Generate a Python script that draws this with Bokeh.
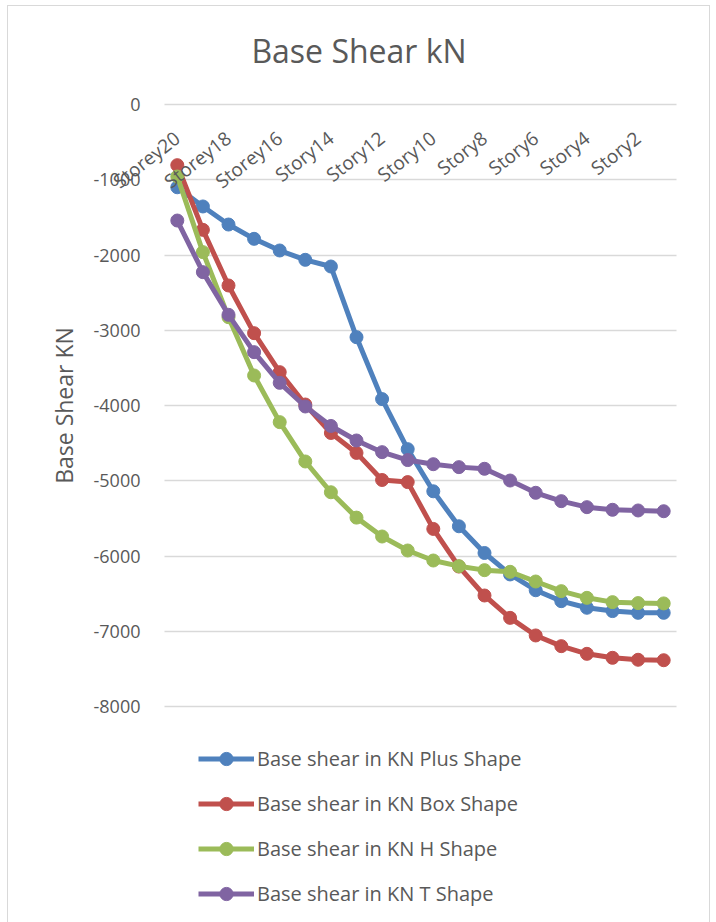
import math

from bokeh.core.properties import value
from bokeh.embed import file_html
from bokeh.models import (ColumnDataSource, FixedTicker, Label, LabelSet, Legend,
                          LegendItem, Range1d)
from bokeh.plotting import figure
from bokeh.resources import INLINE

# Storeys from the top of the building down to the first storey
categories = [
    "Storey20", "Storey19", "Storey18", "Storey17", "Storey16", "Storey15",
    "Story14", "Story13", "Story12", "Story11", "Story10", "Story9",
    "Story8", "Story7", "Story6", "Story5", "Story4", "Story3", "Story2", "Story1",
]
# Only every other storey gets a printed label
shown_labels = [
    "Storey20", "Storey18", "Storey16", "Story14", "Story12",
    "Story10", "Story8", "Story6", "Story4", "Story2",
]
y_ticks = [0, -1000, -2000, -3000, -4000, -5000, -6000, -7000, -8000]

# Base shear (kN) per storey for each plan shape
plus_shape = [-1100, -1355, -1595, -1785, -1940, -2064, -2153, -3092, -3915, -4580,
              -5140, -5605, -5960, -6245, -6455, -6600, -6688, -6732, -6755, -6755]
box_shape = [-806, -1666, -2405, -3039, -3557, -3987, -4365, -4630, -4990, -5018,
             -5640, -6140, -6525, -6822, -7056, -7198, -7300, -7353, -7379, -7385]
h_shape = [-957, -1962, -2826, -3601, -4221, -4744, -5153, -5490, -5741, -5927,
           -6060, -6135, -6188, -6210, -6339, -6467, -6556, -6613, -6626, -6630]
t_shape = [-1542, -2228, -2795, -3291, -3699, -4013, -4272, -4465, -4620, -4725,
           -4780, -4819, -4841, -4997, -5160, -5271, -5351, -5386, -5395, -5405]

series = [
    ("Base shear in KN Plus Shape", plus_shape, "#4F81BD"),
    ("Base shear in KN Box Shape", box_shape, "#C0504D"),
    ("Base shear in KN H Shape", h_shape, "#9BBB59"),
    ("Base shear in KN T Shape", t_shape, "#8064A2"),
]

FONT = "Open Sans"
TEXT = "#595959"
GRID = "#D9D9D9"

# Canvas and plot-area geometry (pixels). The whole canvas is used as the
# drawing frame so that titles, slanted labels and the legend are never
# clipped; the value grid occupies only the inner plot area.
CANVAS_W, CANVAS_H = 701, 916
PLOT_LEFT, PLOT_TOP = 156, 98
PLOT_W, PLOT_H = 512, 602

n = len(categories)
y_min, y_max = min(y_ticks), max(y_ticks)
slot = PLOT_W / n                       # pixels per storey
unit = PLOT_H / (y_max - y_min)         # pixels per kN

x_lo = -0.5 - PLOT_LEFT / slot
x_hi = x_lo + CANVAS_W / slot
y_hi = y_max + PLOT_TOP / unit
y_lo = y_hi - CANVAS_H / unit

storey_pos = list(range(n))  # one slot per storey along x

p = figure(
    x_range=Range1d(x_lo, x_hi), y_range=Range1d(y_lo, y_hi),
    width=CANVAS_W, height=CANVAS_H, min_border=0,
    output_backend="svg", toolbar_location=None,
)
p.margin = (6, 0, 0, 8)
p.styles = {"outline": "1.5px solid #D9D9D9"}
p.outline_line_color = None
p.xaxis.visible = False
p.yaxis.visible = False
p.xgrid.visible = False
p.yaxis.ticker = FixedTicker(ticks=y_ticks)
p.ygrid.ticker = FixedTicker(ticks=y_ticks)
p.ygrid.grid_line_color = GRID
p.ygrid.grid_line_width = 1.5
p.ygrid.cross_bounds = (-0.5, n - 0.5)

# Chart title
p.add_layout(Label(
    x=CANVAS_W / 2, y=CANVAS_H - 44, x_units="screen", y_units="screen",
    text="Base Shear kN", text_align="center", text_baseline="alphabetic",
    text_font=FONT, text_font_size="32px", text_color=TEXT,
))

# Value tick labels, to the left of the plot area
tick_src = ColumnDataSource(data=dict(
    v=y_ticks, txt=[str(t) for t in y_ticks], edge=[-0.5] * len(y_ticks),
))
p.add_layout(LabelSet(
    x="edge", y="v", text="txt", source=tick_src,
    x_offset=-24, text_align="right", text_baseline="middle",
    text_font=value(FONT), text_font_size=value("18px"), text_color=value(TEXT),
))

# Value axis title
p.add_layout(Label(
    x=-0.5, y=(y_min + y_max) / 2, x_offset=-101,
    text="Base Shear KN", angle=math.pi / 2,
    text_align="center", text_baseline="middle",
    text_font=FONT, text_font_size="23px", text_color=TEXT,
))

items = []
for name, vals, color in series:
    src = ColumnDataSource(data=dict(pos=storey_pos, shear=vals))
    ln = p.line("pos", "shear", source=src, line_color=color, line_width=5)
    sc = p.scatter("pos", "shear", source=src, marker="circle", size=13,
                   fill_color=color, line_color=color)
    items.append(LegendItem(label=name, renderers=[ln, sc]))

# Storey labels, slanted, ending just under the zero line
label_src = ColumnDataSource(data=dict(
    storey=shown_labels,
    pos=[categories.index(s) for s in shown_labels],
    base=[0] * len(shown_labels),
))
p.add_layout(LabelSet(
    x="pos", y="base", text="storey", source=label_src,
    angle=math.radians(38), text_align="right", text_baseline="middle",
    x_offset=0, y_offset=-31,
    text_font=value(FONT), text_font_size=value("19px"), text_color=value(TEXT),
))

# Legend under the plot area
legend = Legend(
    items=items, location=(190, 12), orientation="vertical",
    glyph_width=56, glyph_height=33, spacing=12, label_standoff=3,
    padding=0, margin=0, border_line_color=None, background_fill_alpha=0,
    label_text_font=FONT, label_text_font_size="20px", label_text_color=TEXT,
)
p.add_layout(legend)

open("out.html", "w").write(file_html(p, INLINE))
